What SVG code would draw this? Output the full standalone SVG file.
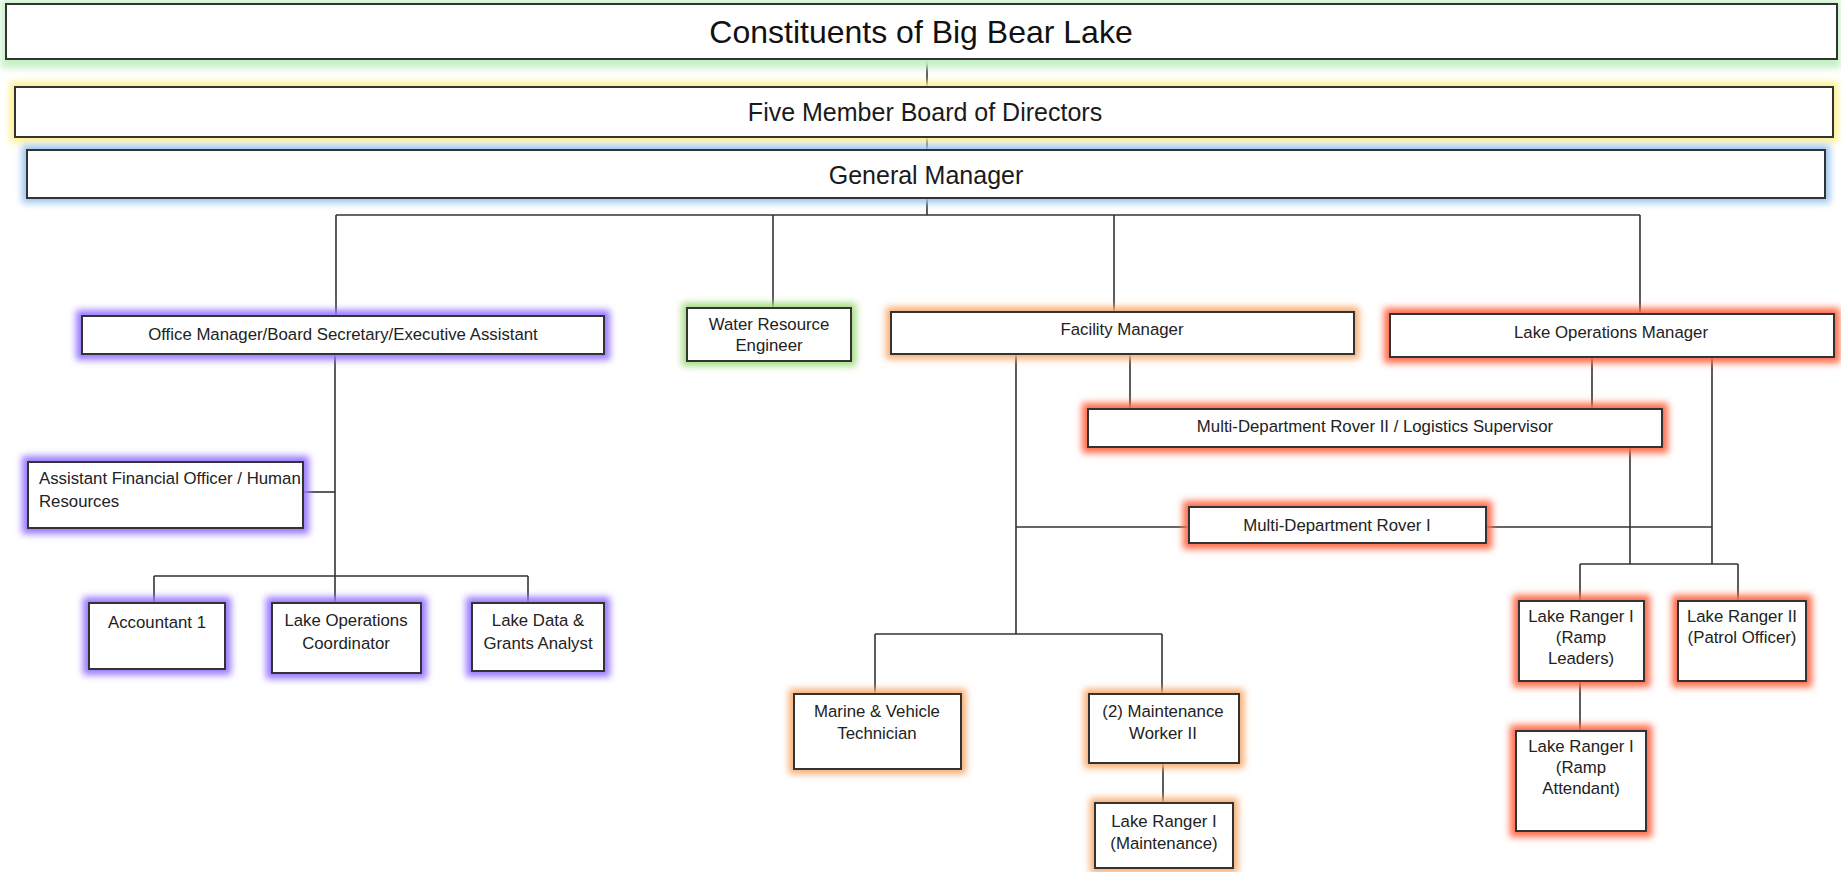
<svg xmlns="http://www.w3.org/2000/svg" width="1841" height="872" viewBox="0 0 1841 872">
<defs>
<filter id="glow" x="-20%" y="-60%" width="140%" height="220%"><feGaussianBlur stdDeviation="3.6"/></filter>
<style>
.box{fill:#fff;stroke:#333;stroke-width:2}
.g{filter:url(#glow)}
.t{font-family:"Liberation Sans",Arial,sans-serif;font-size:16.8px;fill:#222;text-anchor:middle}
.tl{text-anchor:start}
.big{font-size:32px;fill:#111}
.mid{font-size:25px;fill:#1a1a1a}
.c line{stroke:#333;stroke-width:1.6}
.green{fill:#c4f0c4}.yellow{fill:#fff08a}.blue{fill:#9cc4f0}.purple{fill:#9a78ff}.wgreen{fill:#a2dc80}.lorange{fill:#f8ac70}.red{fill:#ff6a48}
</style>
</defs>
<rect width="1841" height="872" fill="#fff"/>
<g class="c" id="connectors">
<line x1="927" y1="59" x2="927" y2="87"/>
<line x1="927" y1="137" x2="927" y2="150"/>
<line x1="927" y1="198" x2="927" y2="215"/>
<line x1="336" y1="215" x2="1640" y2="215"/>
<line x1="336" y1="215" x2="336" y2="316"/>
<line x1="773" y1="215" x2="773" y2="308"/>
<line x1="1114" y1="215" x2="1114" y2="312"/>
<line x1="1640" y1="215" x2="1640" y2="314"/>
<line x1="335" y1="354" x2="335" y2="603"/>
<line x1="303" y1="492" x2="335" y2="492"/>
<line x1="154" y1="576" x2="528" y2="576"/>
<line x1="154" y1="576" x2="154" y2="603"/>
<line x1="528" y1="576" x2="528" y2="603"/>
<line x1="1016" y1="354" x2="1016" y2="634"/>
<line x1="1130" y1="354" x2="1130" y2="409"/>
<line x1="1016" y1="527" x2="1189" y2="527"/>
<line x1="1486" y1="527" x2="1712" y2="527"/>
<line x1="1592" y1="357" x2="1592" y2="409"/>
<line x1="1712" y1="357" x2="1712" y2="564"/>
<line x1="1630" y1="447" x2="1630" y2="564"/>
<line x1="1580" y1="564" x2="1738" y2="564"/>
<line x1="1580" y1="564" x2="1580" y2="601"/>
<line x1="1738" y1="564" x2="1738" y2="601"/>
<line x1="1580" y1="681" x2="1580" y2="731"/>
<line x1="875" y1="634" x2="1162" y2="634"/>
<line x1="875" y1="634" x2="875" y2="694"/>
<line x1="1162" y1="634" x2="1162" y2="694"/>
<line x1="1163" y1="763" x2="1163" y2="803"/>
</g>
<g id="constituents"><rect class="g green" x="1" y="0" width="1840" height="68"/><rect class="box" x="6" y="4" width="1831" height="55"/><text class="t big" x="921" y="43">Constituents of Big Bear Lake</text></g>
<g id="board"><rect class="g yellow" x="10" y="82" width="1828" height="60"/><rect class="box" x="15" y="87" width="1818" height="50"/><text class="t mid" x="925" y="121">Five Member Board of Directors</text></g>
<g id="gm"><rect class="g blue" x="22" y="145" width="1808" height="58"/><rect class="box" x="27" y="150" width="1798" height="48"/><text class="t mid" x="926" y="184">General Manager</text></g>
<g id="office"><rect class="g purple" x="76" y="310" width="534" height="50"/><rect class="box" x="82" y="316" width="522" height="38"/><text class="t" x="343" y="340">Office Manager/Board Secretary/Executive Assistant</text></g>
<g id="asst"><rect class="g purple" x="22" y="456" width="287" height="78"/><rect class="box" x="28" y="462" width="275" height="66"/><text class="t tl" x="39" y="484">Assistant Financial Officer / Human</text><text class="t tl" x="39" y="507">Resources</text></g>
<g id="accountant"><rect class="g purple" x="83" y="597" width="148" height="78"/><rect class="box" x="89" y="603" width="136" height="66"/><text class="t" x="157" y="628">Accountant 1</text></g>
<g id="loc"><rect class="g purple" x="266" y="597" width="161" height="82"/><rect class="box" x="272" y="603" width="149" height="70"/><text class="t" x="346" y="626">Lake Operations</text><text class="t" x="346" y="649">Coordinator</text></g>
<g id="ldg"><rect class="g purple" x="466" y="597" width="144" height="80"/><rect class="box" x="472" y="603" width="132" height="68"/><text class="t" x="538" y="626">Lake Data &amp;</text><text class="t" x="538" y="649">Grants Analyst</text></g>
<g id="wre"><rect class="g wgreen" x="682" y="303" width="174" height="63"/><rect class="box" x="687" y="308" width="164" height="53"/><text class="t" x="769" y="330">Water Resource</text><text class="t" x="769" y="351">Engineer</text></g>
<g id="fm"><rect class="g lorange" x="886" y="307" width="473" height="52"/><rect class="box" x="891" y="312" width="463" height="42"/><text class="t" x="1122" y="335">Facility Manager</text></g>
<g id="lom"><rect class="g red" x="1384" y="308" width="456" height="55"/><rect class="box" x="1390" y="314" width="444" height="43"/><text class="t" x="1611" y="338">Lake Operations Manager</text></g>
<g id="rover2"><rect class="g red" x="1082" y="403" width="586" height="50"/><rect class="box" x="1088" y="409" width="574" height="38"/><text class="t" x="1375" y="432">Multi-Department Rover II / Logistics Supervisor</text></g>
<g id="rover1"><rect class="g red" x="1183" y="501" width="309" height="48"/><rect class="box" x="1189" y="507" width="297" height="36"/><text class="t" x="1337" y="531">Multi-Department Rover I</text></g>
<g id="ranger-leaders"><rect class="g red" x="1513" y="595" width="137" height="92"/><rect class="box" x="1519" y="601" width="125" height="80"/><text class="t" x="1581" y="622">Lake Ranger I</text><text class="t" x="1581" y="643">(Ramp</text><text class="t" x="1581" y="664">Leaders)</text></g>
<g id="ranger-patrol"><rect class="g red" x="1672" y="595" width="140" height="92"/><rect class="box" x="1678" y="601" width="128" height="80"/><text class="t" x="1742" y="622">Lake Ranger II</text><text class="t" x="1742" y="643">(Patrol Officer)</text></g>
<g id="ranger-attendant"><rect class="g red" x="1510" y="725" width="142" height="112"/><rect class="box" x="1516" y="731" width="130" height="100"/><text class="t" x="1581" y="752">Lake Ranger I</text><text class="t" x="1581" y="773">(Ramp</text><text class="t" x="1581" y="794">Attendant)</text></g>
<g id="marine"><rect class="g lorange" x="789" y="689" width="177" height="85"/><rect class="box" x="794" y="694" width="167" height="75"/><text class="t" x="877" y="717">Marine &amp; Vehicle</text><text class="t" x="877" y="739">Technician</text></g>
<g id="maint"><rect class="g lorange" x="1084" y="689" width="160" height="79"/><rect class="box" x="1089" y="694" width="150" height="69"/><text class="t" x="1163" y="717">(2) Maintenance</text><text class="t" x="1163" y="739">Worker II</text></g>
<g id="ranger-maint"><rect class="g lorange" x="1090" y="798" width="148" height="75"/><rect class="box" x="1095" y="803" width="138" height="65"/><text class="t" x="1164" y="827">Lake Ranger I</text><text class="t" x="1164" y="849">(Maintenance)</text></g>
</svg>
